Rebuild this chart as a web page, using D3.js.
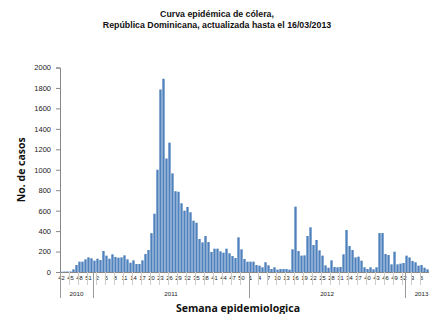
<!DOCTYPE html>
<html>
<head>
<meta charset="utf-8">
<script src="https://cdn.jsdelivr.net/npm/d3@7"></script>
<style>
  body { margin: 0; background: #fff; }
  svg { display: block; }
</style>
</head>
<body>
<svg id="chart" width="429" height="314"></svg>
<script>

// Years shown on the category axis, with first and last epidemiological week
const years = ["2010", "2011", "2012", "2013"];
const firstWeek = [42, 1, 1, 1];
const lastWeek = [52, 52, 52, 11];

// Weekly cholera cases
const cases2010 = [3, 4, 5, 5, 26, 68, 101, 101, 124, 143, 134];
const cases2011 = [111, 130, 117, 205, 160, 130, 173, 147, 140, 143,
                   163, 124, 91, 114, 78, 78, 114, 176, 215, 380,
                   570, 1000, 1785, 1890, 1110, 1265, 965, 790, 785, 672,
                   600, 636, 584, 502, 482, 323, 290, 352, 293, 196,
                   228, 228, 202, 189, 228, 183, 156, 137, 339, 222,
                   127, 101];
const cases2012 = [101, 101, 68, 62, 46, 95, 65, 29, 46, 23,
                   29, 29, 29, 23, 222, 639, 205, 160, 163, 352,
                   437, 264, 313, 212, 160, 65, 42, 114, 49, 46,
                   49, 173, 411, 254, 215, 143, 150, 111, 46, 29,
                   46, 26, 46, 381, 381, 176, 166, 75, 199, 75,
                   82, 88];
const cases2013 = [160, 143, 108, 95, 62, 68, 42, 26, 20, 15, 12];

const yTicks = [0, 200, 400, 600, 800, 1000, 1200, 1400, 1600, 1800, 2000];
const labelEvery = 3;

// Build the rows: one per week
const casesByYear = [cases2010, cases2011, cases2012, cases2013];
const rows = [];
years.forEach((yr, k) => {
    for (let w = firstWeek[k]; w <= lastWeek[k]; w++) {
        rows.push({ key: yr + "-" + w, year: yr, week: w, value: casesByYear[k][w - firstWeek[k]] });
    }
});

const svg = d3.select("#chart");
const W = +svg.attr("width");
const plotLeft = 60, plotBase = 272, plotTop = 67.5;
const bandW = 3;

const x = d3.scaleBand()
    .domain(rows.map(d => d.key))
    .range([plotLeft, plotLeft + rows.length * bandW])
    .paddingInner(0.22)
    .paddingOuter(0.1);

const y = d3.scaleLinear()
    .domain([0, 2000])
    .range([plotBase, plotTop]);

// Title
const title = svg.append("text")
    .attr("x", 217)
    .attr("text-anchor", "middle")
    .style("font-family", "'Liberation Sans', Arial, sans-serif")
    .style("font-weight", "bold")
    .style("font-size", "8.8px")
    .attr("fill", "#111");
title.append("tspan").attr("x", 217).attr("y", 17).text("Curva epidémica de cólera,");
title.append("tspan").attr("x", 217).attr("y", 27.5).text("República Dominicana, actualizada hasta el 16/03/2013");

// Y axis
const yAxis = svg.append("g")
    .attr("transform", `translate(${plotLeft},0)`)
    .call(d3.axisLeft(y).tickValues(yTicks).tickFormat(d3.format("d")).tickSize(4).tickPadding(5));
yAxis.select(".domain").attr("stroke", "#888");
yAxis.selectAll(".tick line").attr("stroke", "#888");
yAxis.selectAll(".tick text")
    .style("font-family", "'Liberation Sans', Arial, sans-serif")
    .style("font-size", "7.5px")
    .attr("fill", "#222");

svg.append("text")
    .attr("transform", `translate(25,${(plotBase + plotTop) / 2}) rotate(-90)`)
    .attr("text-anchor", "middle")
    .style("font-family", "'Open Sans', sans-serif")
    .style("font-weight", "bold")
    .style("font-size", "10.5px")
    .attr("fill", "#111")
    .text("No. de casos");

// Bars
svg.append("g")
    .selectAll("rect")
    .data(rows)
    .join("rect")
    .attr("x", d => x(d.key))
    .attr("y", d => y(d.value))
    .attr("width", x.bandwidth())
    .attr("height", d => plotBase - y(d.value))
    .attr("fill", "#4f81bd");

// X axis: week labels every 3 weeks (only those that fall inside the window)
const labelled = rows.filter((d, i) => i % labelEvery === 0 && x(d.key) + x.bandwidth() < W - 2);
const xAxis = svg.append("g")
    .attr("transform", `translate(0,${plotBase})`)
    .call(d3.axisBottom(x)
        .tickValues(labelled.map(d => d.key))
        .tickFormat(k => k.split("-")[1])
        .tickSize(0)
        .tickPadding(4));
xAxis.select(".domain").attr("stroke", "#888");
xAxis.selectAll(".tick text")
    .style("font-family", "'Liberation Sans', Arial, sans-serif")
    .style("font-size", "5.8px")
    .attr("fill", "#222");

// separators in the week label row
const step = x.step();
svg.append("g")
    .selectAll("line")
    .data(rows.filter((d, i) => i % labelEvery === 0 && i > 0))
    .join("line")
    .attr("x1", d => Math.round(x(d.key) - step * 0.15) + 0.5)
    .attr("x2", d => Math.round(x(d.key) - step * 0.15) + 0.5)
    .attr("y1", plotBase)
    .attr("y2", plotBase + 13)
    .attr("stroke", "#ccc")
    .attr("stroke-width", 1);

// Year row
const yearSpans = years.map(yr => {
    const r = rows.filter(d => d.year === yr);
    return { year: yr, x1: x(r[0].key) - step * 0.15, x2: x(r[r.length - 1].key) + x.bandwidth() + step * 0.15 };
});

svg.append("g")
    .selectAll("line")
    .data(yearSpans)
    .join("line")
    .attr("x1", d => Math.round(d.x1) + 0.5)
    .attr("x2", d => Math.round(d.x1) + 0.5)
    .attr("y1", plotBase)
    .attr("y2", plotBase + 26)
    .attr("stroke", "#999");

svg.append("g")
    .selectAll("text")
    .data(yearSpans)
    .join("text")
    .attr("x", d => (d.x1 + d.x2) / 2)
    .attr("y", plotBase + 23.5)
    .attr("text-anchor", "middle")
    .style("font-family", "'Liberation Sans', Arial, sans-serif")
    .style("font-size", "6.2px")
    .attr("fill", "#222")
    .text(d => d.year);

// X axis title
svg.append("text")
    .attr("x", 238)
    .attr("y", 312)
    .attr("text-anchor", "middle")
    .style("font-family", "'Open Sans', sans-serif")
    .style("font-weight", "bold")
    .style("font-size", "10.5px")
    .attr("fill", "#111")
    .text("Semana epidemiologica");

</script>
</body>
</html>
